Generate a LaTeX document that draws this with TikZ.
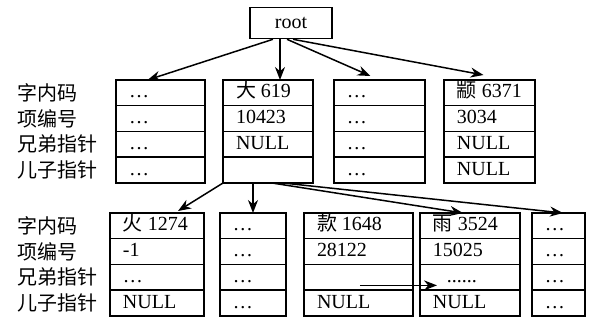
\documentclass[tikz,border=0pt]{standalone}
\usepackage{fontspec}
\setmainfont{Liberation Serif}
\newfontfamily\cjk{Noto Sans CJK SC}
\usetikzlibrary{calc, arrows.meta}

\newcommand{\hanzi}[1]{{\cjk #1}}

% one record: name, left, top, width (all in px units), then its four fields
\newcommand{\record}[8]{%
	\pgfmathsetlengthmacro\cellw{(#4-26)*0.5pt}%
	\node [recfield, anchor = north west] (#1-1) at (#2,#3) {\makebox[\cellw][l]{#5}};
	\node [recfield, anchor = north west] (#1-2) at (#1-1.south west) {\makebox[\cellw][l]{#6}};
	\node [recfield, anchor = north west] (#1-3) at (#1-2.south west) {\makebox[\cellw][l]{#7}};
	\node [recfield, anchor = north west] (#1-4) at (#1-3.south west) {\makebox[\cellw][l]{#8}};
}

\tikzset{
	recfield/.style = {draw, line width = 0.75pt, inner xsep = 6.5pt, inner ysep = 0pt, outer sep = 0pt,
		minimum height = 12.875pt, text height = 7pt, text depth = 2pt},
	fieldname/.style = {anchor = west, inner sep = 0pt},
}

\begin{document}
\begin{tikzpicture}[x = 0.5pt, y = -0.5pt]
		\useasboundingbox (0,0) rectangle (591,320);
		
		\node [draw, line width = 0.8pt, minimum width = 41pt, minimum height = 15.5pt] (root) at (291,23) {root};
		
		\record{t1}{116}{80}{89}{\dots}{\dots}{\dots}{\dots}
		\record{t2}{223}{80}{90}{\hanzi{大} 619}{10423}{NULL}{}
		\record{t3}{334}{80}{91}{\dots}{\dots}{\dots}{\dots}
		\record{t4}{444}{80}{91}{\hanzi{颛} 6371}{3034}{NULL}{NULL}
		
		\record{b1}{110}{213}{94}{\hanzi{火} 1274}{-1}{\dots}{NULL}
		\record{b2}{220}{213}{66}{\dots}{\dots}{\dots}{\dots}
		\record{b3}{304}{213}{109}{\hanzi{款} 1648}{28122}{}{NULL}
		\record{b4}{420}{213}{100}{\hanzi{雨} 3524}{15025}{\hspace{7pt}......}{NULL}
		\record{b5}{532}{213}{53}{\dots}{\dots}{\dots}{\dots}
		
		\coordinate (namex) at (17,0);
		\foreach \row in {t1, b1} {
			\node [fieldname] at (namex |- \row-1) {\cjk 字内码};
			\node [fieldname] at (namex |- \row-2) {\cjk 项编号};
			\node [fieldname] at (namex |- \row-3) {\cjk 兄弟指针};
			\node [fieldname] at (namex |- \row-4) {\cjk 儿子指针};
		}
		
		\begin{scope}[-{Stealth[length = 6.5pt, width = 5pt]}, line width = 0.75pt]
		\draw ($(root.south)+(-18,0)$) -- ($(t1-1.north)+(-13,0)$);
		\draw ($(root.south)+(-11,0)$) -- ($(t2-1.north)+(12,0)$);
		\draw ($(root.south)+(-4,0)$) -- ($(t3-1.north)+(-9,-4)$);
		\draw ($(root.south)+(2,0)$) -- ($(t4-1.north)+(-6,-5)$);
		
		\draw (t2-4.south west) -- ($(b1-1.north)+(21,-2)$);
		\draw ($(t2-4.south)+(-15,0)$) -- (b2-1.north);
		\draw ($(t2-4.south)+(4,0)$) -- ($(b4-1.north)+(-7,0)$);
		\draw ($(t2-4.south)+(15,0)$) -- ($(b5-1.north)+(4.5,0)$);
		
		\draw ($(b3-3.center)+(1.5,8)$) -- ($(b4-3.west)+(17,8)$);
		\end{scope}
	\end{tikzpicture}
\end{document}
